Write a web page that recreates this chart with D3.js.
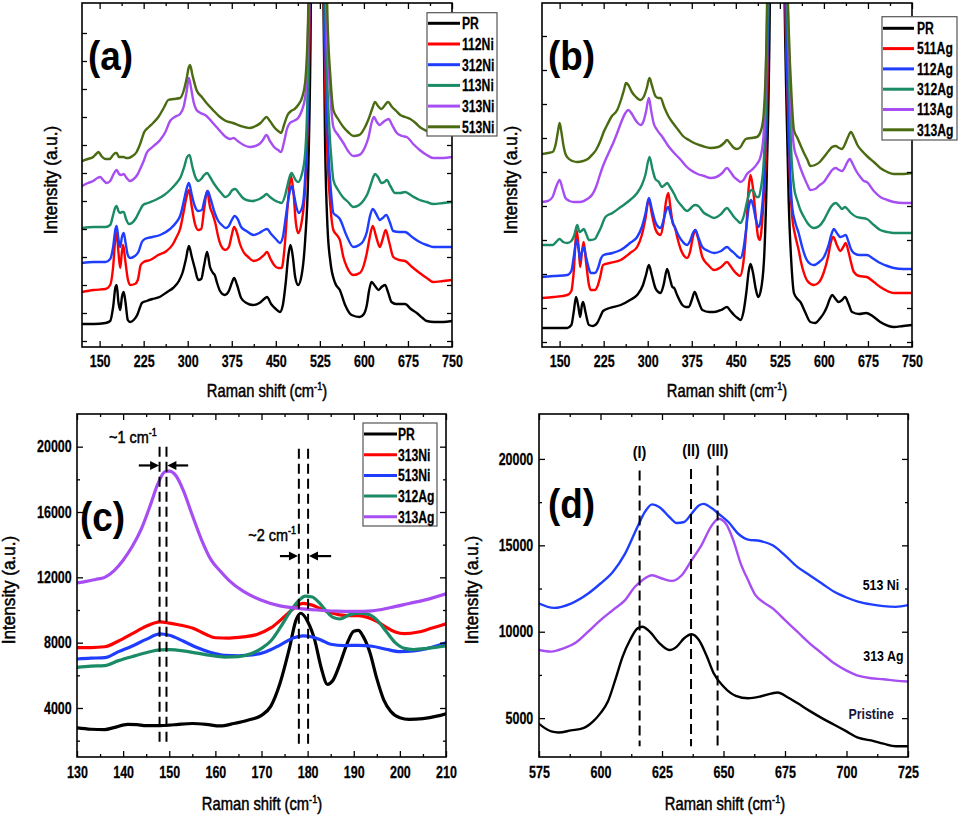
<!DOCTYPE html>
<html><head><meta charset="utf-8">
<script src="https://cdn.jsdelivr.net/npm/d3@7/dist/d3.min.js"></script>
<style>body{margin:0;background:#fff}svg{display:block}</style>
</head><body>
<svg id="chart" width="959" height="818"></svg>
<script>
// ---------------- DATA ----------------
const aNames = ["PR","112Ni","312Ni","113Ni","313Ni","513Ni"];
const bNames = ["PR","511Ag","112Ag","312Ag","113Ag","313Ag"];
const cNames = ["PR","313Ni","513Ni","312Ag","313Ag"];
const dNames = ["Pristine","313 Ag","513 Ni"];
const abColors = ["#000000","#ff0000","#1f3dff","#1b8a66","#a64ef2","#4b6b12"];
const cColors = ["#000000","#ff0000","#1f3dff","#1b8a66","#a64ef2"];
const dColors = ["#000000","#a64ef2","#1f3dff"];

const xTicksAB = [150,225,300,375,450,525,600,675,750];
const xMinorAB = [187.5,262.5,337.5,412.5,487.5,562.5,637.5,712.5];
const yTicksA = [6,34,62,90,118,146,174,202,230,258,286,314];
const yTicksB = [5,39,73,107,141,175,209,243,277,311];
const xTicksC = [130,140,150,160,170,180,190,200,210];
const xMinorC = [135,145,155,165,175,185,195,205];
const yTicksC = [4000,8000,12000,16000,20000];
const yMinorC = [2000,6000,10000,14000,18000];
const xTicksD = [575,600,625,650,675,700,725];
const xMinorD = [587.5,612.5,637.5,662.5,687.5,712.5];
const yTicksD = [5000,10000,15000,20000];
const yMinorD = [7500,12500,17500];

// panel (a): Raman shift (cm-1), intensity (a.u., offset spectra)
const aPR = [[120,23],[140,23],[160,24],[168,26],[173,40],[177,60],[179,62],[182,45],[185,37],[188,50],[191,55],[194,45],[198,27],[202,25],[208,27],[214,32],[219,40],[222,44],[230,46],[240,48],[252,50],[265,55],[275,59],[285,66],[291,74],[297,88],[302,101],[307,90],[312,79],[318,67],[323,68],[328,82],[333,95],[338,80],[343,74],[346,72],[350,64],[355,56],[363,52],[370,56],[375,64],[379,69],[384,62],[391,49],[400,44],[411,42],[422,44],[430,48],[435,50],[442,43],[450,38],[457,35],[462,42],[467,65],[471,90],[475,102],[479,90],[483,70],[488,62],[494,72],[500,107],[505,170],[509,300],[513,600],[520,2000],[527,700],[530,400],[534,200],[538,120],[543,85],[551,64],[559,57],[568,42],[579,32],[593,30],[600,33],[605,42],[609,57],[613,65],[619,61],[625,57],[630,60],[636,62],[641,55],[647,45],[655,43],[663,43],[670,43],[680,38],[690,34],[700,29],[707,26],[720,25],[735,25],[750,26]];
const a112Ni = [[120,55],[140,57],[160,58],[168,62],[173,80],[177,110],[179,114],[182,95],[185,79],[188,95],[190,102],[194,85],[198,68],[202,62],[210,63],[215,67],[220,82],[225,85],[236,87],[250,92],[264,96],[275,103],[281,110],[287,118],[293,135],[298,150],[302,157],[307,140],[312,124],[318,117],[323,118],[328,138],[333,156],[338,140],[343,132],[347,124],[352,110],[357,101],[364,97],[370,100],[375,112],[379,120],[384,114],[389,103],[395,95],[403,90],[412,86],[422,88],[430,92],[435,95],[441,88],[447,82],[454,79],[460,79],[465,100],[470,140],[474,165],[476,171],[480,155],[484,125],[488,114],[494,125],[500,160],[505,240],[509,400],[520,2000],[529,500],[533,300],[538,190],[543,140],[548,117],[554,112],[559,107],[565,90],[571,80],[582,72],[593,74],[600,82],[605,94],[610,110],[615,121],[621,110],[627,100],[632,108],[637,117],[643,105],[650,90],[660,87],[670,86],[682,80],[695,74],[707,69],[718,65],[735,66],[750,67]];
const a312Ni = [[120,84],[140,85],[160,85],[168,88],[173,100],[177,118],[179,121],[182,108],[185,100],[188,110],[191,114],[194,105],[198,92],[202,89],[210,91],[216,95],[222,105],[227,108],[240,110],[253,112],[270,118],[281,125],[287,131],[293,145],[298,158],[302,164],[307,152],[312,141],[318,136],[324,137],[329,148],[334,156],[339,148],[346,134],[352,126],[358,122],[365,119],[370,121],[375,127],[380,131],[385,128],[391,120],[400,116],[412,112],[422,114],[430,117],[435,118],[442,113],[450,108],[457,104],[462,110],[467,130],[472,150],[477,161],[481,152],[485,140],[489,134],[495,140],[500,170],[505,250],[509,420],[520,2000],[530,500],[535,280],[540,190],[544,155],[548,134],[554,131],[559,128],[570,112],[582,100],[592,102],[599,106],[605,115],[610,130],[615,138],[621,133],[627,127],[632,129],[638,132],[644,125],[650,116],[660,115],[670,115],[682,110],[695,105],[707,102],[718,100],[735,100],[750,100]];
const a113Ni = [[120,119],[140,120],[160,120],[168,122],[173,132],[177,140],[179,141],[182,136],[185,134],[188,135],[191,135],[195,128],[200,123],[205,124],[212,129],[218,136],[224,142],[232,144],[245,147],[260,152],[270,157],[281,164],[288,170],[294,180],[299,190],[303,192],[308,180],[313,170],[318,166],[323,168],[328,172],[333,174],[338,170],[344,164],[350,159],[357,154],[364,150],[370,152],[376,157],[381,158],[387,154],[394,149],[400,147],[410,146],[422,148],[430,151],[434,153],[440,150],[447,147],[454,145],[460,144],[465,150],[470,162],[474,171],[477,174],[481,170],[485,166],[488,165],[494,172],[500,194],[505,280],[509,460],[520,2000],[531,500],[536,300],[541,220],[545,185],[548,167],[556,157],[564,150],[573,145],[582,140],[592,142],[600,147],[606,153],[612,163],[616,170],[619,173],[624,170],[630,164],[635,165],[639,167],[645,161],[653,154],[662,154],[670,155],[682,151],[695,147],[707,145],[718,143],[735,144],[750,145]];
const a313Ni = [[120,161],[130,164],[139,166],[146,169],[151,170],[156,167],[162,164],[168,166],[173,172],[177,176],[179,177],[183,173],[187,172],[191,173],[196,169],[202,166],[208,168],[214,172],[219,178],[225,186],[230,194],[240,200],[253,207],[262,215],[270,226],[278,230],[287,233],[293,240],[298,255],[302,269],[306,258],[310,245],[315,237],[322,234],[332,231],[340,226],[349,220],[358,214],[365,210],[372,208],[378,209],[385,206],[395,202],[406,200],[415,201],[422,203],[428,207],[434,212],[440,206],[447,200],[454,197],[459,195],[464,205],[469,218],[474,224],[480,226],[488,229],[494,236],[500,250],[505,320],[509,480],[520,2000],[532,500],[537,320],[542,260],[548,220],[556,212],[565,204],[573,196],[582,191],[592,192],[602,200],[608,210],[613,224],[617,230],[622,225],[627,222],[633,225],[638,227],[642,228],[648,222],[656,214],[665,211],[673,210],[684,203],[695,197],[707,192],[718,189],[735,189],[750,190]];
const a513Ni = [[120,186],[130,188],[139,190],[144,193],[148,195],[153,191],[160,188],[167,188],[173,192],[177,194],[179,194],[183,190],[187,190],[191,190],[195,189],[199,189],[206,191],[213,195],[219,203],[226,215],[234,220],[241,224],[250,230],[260,240],[267,247],[276,248],[287,249],[293,256],[298,268],[302,280],[304,282],[308,272],[315,257],[324,250],[332,244],[343,237],[355,230],[365,226],[377,224],[390,221],[406,219],[416,221],[424,224],[430,228],[434,230],[440,226],[447,220],[454,216],[459,214],[464,222],[470,232],[476,236],[482,238],[488,242],[495,250],[500,265],[505,330],[509,500],[520,2000],[533,500],[538,330],[543,270],[548,237],[556,228],[565,220],[573,215],[582,211],[592,212],[602,220],[608,228],[614,238],[619,245],[624,241],[630,238],[636,242],[641,245],[648,240],[655,236],[662,232],[670,230],[679,228],[688,224],[695,220],[707,216],[718,213],[735,213],[750,213]];

// panel (b)
const bPR = [[120,19],[140,19],[163,19],[170,22],[174,35],[178,50],[182,40],[185,30],[188,42],[190,45],[194,35],[200,22],[207,21],[214,24],[219,30],[224,36],[235,39],[254,42],[270,47],[282,52],[292,62],[297,72],[302,82],[307,72],[313,59],[318,55],[322,54],[327,62],[333,78],[338,68],[342,60],[345,59],[350,52],[359,42],[365,40],[370,40],[375,47],[380,55],[385,48],[393,37],[405,35],[413,35],[425,37],[435,40],[441,36],[447,32],[453,29],[458,27],[463,35],[468,55],[472,76],[475,83],[479,75],[484,58],[488,50],[492,55],[498,87],[503,180],[508,350],[520,2000],[532,400],[536,250],[540,147],[545,80],[549,54],[555,48],[560,45],[568,35],[577,25],[585,24],[594,29],[600,34],[605,40],[610,48],[614,52],[620,48],[625,45],[631,47],[636,50],[642,43],[648,35],[660,33],[672,34],[685,30],[696,25],[710,21],[719,20],[735,21],[750,22]];
const b511Ag = [[120,49],[140,50],[163,52],[170,56],[174,75],[179,117],[183,95],[185,80],[188,95],[191,105],[195,85],[200,62],[203,57],[210,57],[214,60],[219,70],[224,82],[235,84],[254,87],[270,94],[282,100],[290,112],[296,128],[302,148],[307,133],[313,118],[318,113],[322,112],[327,125],[331,145],[335,154],[339,138],[343,123],[346,120],[351,108],[356,98],[362,91],[367,89],[372,95],[377,110],[381,117],[386,108],[393,90],[403,82],[413,77],[425,80],[435,85],[441,81],[447,76],[452,73],[457,71],[463,85],[468,120],[472,160],[475,172],[479,160],[484,130],[488,110],[491,107],[496,135],[501,190],[506,350],[520,2000],[533,400],[538,250],[542,170],[546,130],[551,112],[557,97],[561,85],[566,74],[572,66],[583,62],[592,65],[600,75],[607,90],[612,105],[616,110],[622,102],[628,96],[633,100],[637,104],[642,95],[646,85],[651,75],[660,71],[673,70],[685,65],[696,60],[708,56],[719,54],[735,54],[750,54]];
const b112Ag = [[120,70],[140,71],[163,72],[170,76],[174,90],[179,107],[183,95],[185,87],[188,95],[191,100],[195,90],[200,78],[203,74],[210,74],[216,80],[220,88],[225,92],[240,94],[254,97],[270,104],[282,110],[290,120],[296,133],[302,149],[307,138],[313,125],[318,120],[322,119],[327,127],[331,136],[335,140],[339,132],[343,124],[346,120],[352,112],[360,105],[367,102],[372,106],[377,114],[381,117],[386,110],[393,100],[403,96],[413,94],[425,96],[435,100],[441,97],[447,94],[452,91],[458,89],[463,98],[468,120],[472,140],[476,147],[480,140],[484,128],[489,120],[494,135],[499,180],[505,340],[520,2000],[533,420],[538,260],[542,180],[546,140],[551,125],[557,114],[563,100],[570,88],[577,83],[583,82],[592,85],[600,90],[608,102],[613,113],[617,118],[622,114],[628,110],[633,111],[637,112],[642,105],[646,98],[651,94],[660,92],[673,92],[685,88],[696,84],[708,81],[719,79],[735,78],[750,78]];
const b312Ag = [[120,102],[130,102],[138,102],[144,105],[150,108],[156,105],[163,104],[170,106],[175,112],[180,122],[184,115],[187,116],[191,118],[196,112],[200,107],[203,107],[210,108],[215,113],[220,119],[228,130],[240,134],[254,140],[270,147],[282,154],[290,162],[296,172],[303,190],[308,178],[313,168],[319,165],[324,160],[329,162],[333,164],[338,160],[345,153],[350,147],[358,141],[367,136],[372,138],[377,141],[381,142],[386,141],[396,134],[405,131],[413,129],[425,133],[435,139],[441,135],[447,130],[452,127],[458,124],[463,130],[469,145],[473,154],[477,157],[481,155],[485,150],[489,150],[493,160],[498,190],[504,330],[520,2000],[534,450],[539,300],[544,200],[549,160],[555,146],[560,137],[566,130],[572,124],[583,119],[592,121],[600,127],[607,135],[613,141],[620,144],[626,141],[631,138],[636,140],[640,138],[646,134],[656,130],[665,129],[673,128],[685,122],[696,117],[708,115],[719,114],[735,114],[750,114]];
const b113Ag = [[120,145],[130,146],[138,150],[144,160],[150,167],[155,158],[160,149],[167,146],[174,145],[185,145],[197,148],[205,152],[212,160],[217,169],[222,178],[228,187],[235,196],[242,205],[248,214],[255,225],[262,234],[267,237],[272,234],[278,228],[283,224],[288,222],[293,226],[297,235],[302,249],[306,236],[310,224],[316,217],[325,210],[335,201],[345,194],[355,188],[365,181],[373,177],[385,173],[396,171],[407,169],[417,170],[427,174],[435,179],[441,175],[447,170],[453,167],[458,165],[463,167],[469,173],[477,177],[486,183],[492,190],[497,210],[503,330],[520,2000],[535,450],[540,310],[545,230],[549,200],[555,188],[560,179],[566,170],[572,162],[577,157],[585,158],[593,162],[600,165],[608,172],[614,177],[620,179],[626,177],[631,176],[636,180],[640,185],[644,188],[649,183],[655,176],[662,170],[668,166],[673,165],[685,156],[696,150],[708,147],[719,145],[735,144],[750,144]];
const b313Ag = [[120,193],[130,194],[138,195],[143,202],[147,215],[150,224],[153,215],[157,200],[160,193],[166,188],[172,186],[180,185],[190,186],[198,188],[205,192],[212,197],[220,207],[225,215],[230,221],[238,230],[248,237],[255,248],[260,258],[263,264],[267,262],[273,255],[280,250],[288,247],[293,250],[298,258],[303,269],[307,262],[313,251],[318,249],[322,249],[328,240],[335,231],[343,224],[352,217],[360,211],[370,207],[379,204],[393,201],[407,199],[420,200],[430,204],[435,207],[441,203],[447,199],[452,198],[458,200],[463,205],[467,208],[476,209],[486,210],[492,215],[497,230],[503,330],[520,2000],[535,450],[540,320],[545,250],[549,217],[555,209],[560,202],[566,194],[572,187],[577,181],[585,182],[593,185],[600,190],[608,196],[614,200],[620,201],[626,199],[631,198],[636,203],[641,210],[646,215],[651,210],[657,202],[665,196],[675,190],[685,185],[696,179],[708,175],[719,173],[735,173],[750,174]];

// panel (c)
const cPR = [[130,2780],[133,2700],[136,2680],[138,2800],[141,3000],[143,2980],[145,2920],[148,2920],[150,2950],[152,3000],[155,3050],[158,3000],[161,2900],[164,3050],[167,3250],[170,3550],[172,4100],[174,5500],[176,7600],[177.5,9400],[178.5,9800],[180,9300],[181.5,8200],[183,6400],[184.3,5450],[185.5,5700],[187,6700],[188.5,7900],[190,8700],[191,8750],[192,8400],[193.5,7400],[195,5800],[196.5,4500],[198,3800],[200,3400],[202,3300],[205,3350],[208,3500],[210,3650]];
const c313Ni = [[130,7700],[133,7700],[136,7750],[139,8100],[142,8550],[145,9000],[148,9270],[150,9200],[152,9100],[155,8900],[158,8500],[160,8300],[163,8280],[166,8350],[169,8500],[172,8900],[175,9600],[177,10100],[179,10400],[181,10300],[183,10050],[185,9850],[187,9700],[189,9650],[191,9650],[193,9550],[195,9300],[197,8950],[199,8650],[201,8550],[204,8650],[207,8900],[210,9150]];
const c513Ni = [[130,7000],[133,7050],[136,7080],[139,7450],[142,7800],[145,8200],[148,8540],[150,8450],[153,8100],[156,7700],[159,7400],[162,7230],[165,7200],[168,7250],[171,7450],[174,7850],[177,8300],[179,8420],[181,8350],[183,8150],[185,7900],[188,7820],[191,7840],[194,7780],[197,7600],[200,7450],[203,7500],[206,7650],[210,8000]];
const c312Ag = [[130,6490],[133,6560],[136,6600],[139,6900],[142,7150],[145,7380],[148,7560],[150,7570],[153,7500],[156,7360],[159,7220],[162,7120],[165,7150],[168,7350],[170,7650],[172,8100],[174,8900],[176,9800],[178,10550],[179.5,10850],[181,10800],[182.5,10450],[184,9950],[185.5,9550],[187,9450],[189,9700],[191,9800],[193,9750],[195,9400],[197,8700],[199,8000],[201,7650],[203,7580],[206,7650],[210,7800]];
const c313Ag = [[130,11660],[132,11750],[134,11870],[136,12000],[138,12400],[140,13050],[142,13900],[144,15000],[146,16500],[147.5,17700],[149,18450],[150,18500],[151.5,18200],[153,17350],[155,15800],[157,14300],[159,13100],[161,12400],[163,11800],[166,11150],[170,10600],[174,10250],[178,10100],[182,10000],[186,9930],[190,9910],[194,9950],[198,10150],[202,10400],[206,10650],[210,10990]];
const cDashes = [[147.9,20000,1750],[149.4,20000,1750],[178.1,19880,1750],[180.1,19880,1750]];
const cArrows = [[143.4,147.8,18850],[154.1,149.6,18850],[174.0,177.9,13300],[185.1,180.3,13300]];

// panel (d)
const dPristine = [[575,4670],[580,4230],[583,4170],[588,4290],[593,4420],[597,4810],[600,5290],[603,5960],[606,7210],[609,8560],[612,9520],[615,10190],[617,10290],[620,10000],[624,9330],[628,8940],[631,9140],[634,9620],[637,9850],[640,9520],[643,8650],[646,7600],[650,6830],[655,6290],[660,6150],[665,6250],[670,6440],[672,6480],[676,6210],[680,5870],[685,5420],[690,5000],[695,4620],[700,4230],[705,3850],[710,3710],[715,3520],[720,3370],[725,3370]];
const d313Ag = [[575,8940],[580,8850],[585,9040],[590,9370],[595,10000],[600,10670],[605,11250],[610,11830],[614,12600],[617,12980],[621,13270],[625,13080],[629,12940],[633,13270],[637,14130],[641,15000],[645,16100],[648,16540],[651,16250],[654,15290],[657,13940],[660,12980],[663,12120],[666,11730],[670,11350],[675,10670],[680,10000],[685,9330],[690,8750],[695,8170],[700,7750],[705,7440],[710,7310],[715,7250],[720,7170],[725,7120]];
const d513Ni = [[575,11630],[581,11380],[588,11630],[595,12210],[600,12790],[605,13460],[610,14520],[615,16060],[618,16920],[621,17370],[624,17210],[628,16640],[631,16290],[634,16350],[637,16830],[640,17310],[642,17400],[645,17170],[648,16830],[652,16350],[656,15670],[660,15330],[665,15250],[670,15000],[675,14420],[680,13750],[685,13270],[690,12790],[695,12310],[700,11980],[705,11730],[710,11580],[715,11480],[720,11440],[725,11540]];
const dDashes = [[615.9,19330,3370],[636.8,19420,3370],[647.6,19620,3370]];
const dPeakLabels = ["(I)","(II)","(III)"];
const dSeriesLabels = [["513 Ni",714,12414],["313 Ag",715,8306],["Pristine",710,4949]];

// ---------------- DRAW ----------------
const svg = d3.select("#chart");
const FONT = '"Liberation Sans", Arial, Helvetica, sans-serif';

function txt(x, y, str, o) {
  o = Object.assign({size:16, weight:"normal", anchor:"start", sx:1, rot:0, fill:"#000", stroke:null}, o || {});
  const g = svg.append("g").attr("transform", `translate(${x},${y}) rotate(${o.rot}) scale(${o.sx},1)`);
  const t = g.append("text").attr("font-family", FONT).attr("font-size", o.size)
    .attr("font-weight", o.weight).attr("text-anchor", o.anchor).attr("fill", o.fill);
  if (o.stroke) t.attr("stroke", o.fill).attr("stroke-width", o.stroke);
  if (o.sup) {
    t.append("tspan").text(str);
    t.append("tspan").attr("dy", -o.size*0.4).attr("font-size", o.size*0.62).text(o.sup);
    t.append("tspan").attr("dy", o.size*0.4).text(o.after || "");
  } else t.text(str);
  return t;
}

function panel(p) {
  const x = d3.scaleLinear().domain(p.xDomain).range([p.left, p.right]);
  const y = d3.scaleLinear().domain(p.yDomain).range([p.bottom, p.top]);
  const cid = "clip_" + p.id;
  svg.append("clipPath").attr("id", cid).append("rect")
    .attr("x", p.left).attr("y", p.top).attr("width", p.right - p.left).attr("height", p.bottom - p.top);
  const line = d3.line().x(d => x(d[0])).y(d => y(d[1])).curve(d3.curveMonotoneX);
  const gl = svg.append("g").attr("clip-path", `url(#${cid})`);
  p.series.forEach((s, i) => {
    gl.append("path").attr("d", line(s)).attr("fill", "none")
      .attr("stroke", p.colors[i]).attr("stroke-width", p.lw)
      .attr("stroke-linejoin", "round").attr("stroke-linecap", "round");
  });
  // ticks
  const sx = 0.78;
  function axis(gen, tr, vals, len, fmt, pad) {
    const a = gen.tickValues(vals).tickSize(-len).tickPadding(pad || 0).tickFormat(fmt ? fmt : () => "");
    const g = svg.append("g").attr("transform", tr).call(a);
    g.select(".domain").remove();
    g.selectAll("line").attr("stroke", "#000").attr("stroke-width", 1.3);
    g.selectAll("text").attr("font-family", FONT).attr("font-size", 16).attr("font-weight", "bold").attr("fill", "#000")
      .attr("stroke", "#000").attr("stroke-width", 0.25)
      .attr("transform", `scale(${sx},1)`)
      .attr("x", function () { const v = d3.select(this).attr("x"); return v === null ? 0 : (+v) / sx; });
    return g;
  }
  const fmtX = d => String(d);
  axis(d3.axisBottom(x), `translate(0,${p.bottom})`, p.xTicks, 6, fmtX, p.xPad);
  axis(d3.axisBottom(x), `translate(0,${p.bottom})`, p.xMinor, 3);
  axis(d3.axisTop(x), `translate(0,${p.top})`, p.xTicks, 6);
  axis(d3.axisTop(x), `translate(0,${p.top})`, p.xMinor, 3);
  axis(d3.axisLeft(y), `translate(${p.left},0)`, p.yTicks, p.yLen || 6, p.yFmt || null, p.yPad);
  axis(d3.axisRight(y), `translate(${p.right},0)`, p.yTicks, p.yLen || 6);
  if (p.yMinor) {
    axis(d3.axisLeft(y), `translate(${p.left},0)`, p.yMinor, 3);
    axis(d3.axisRight(y), `translate(${p.right},0)`, p.yMinor, 3);
  }
  svg.append("rect").attr("x", p.left).attr("y", p.top).attr("width", p.right - p.left).attr("height", p.bottom - p.top)
    .attr("fill", "none").attr("stroke", "#000").attr("stroke-width", 1.6);
  return {x, y};
}

function legend(box, names, colors, x0, x1, tx, yStart, step) {
  svg.append("rect").attr("x", box[0]).attr("y", box[1]).attr("width", box[2] - box[0]).attr("height", box[3] - box[1])
    .attr("fill", "#fff").attr("stroke", "#555").attr("stroke-width", 1.2);
  names.forEach((n, i) => {
    const yy = yStart + i * step;
    svg.append("line").attr("x1", x0).attr("x2", x1).attr("y1", yy).attr("y2", yy)
      .attr("stroke", colors[i]).attr("stroke-width", 3);
    txt(tx, yy + 5.8, n, {size: 16, weight: "bold", sx: 0.76, stroke: 0.25});
  });
}

// Panel (a)
panel({id:"a", left:82, right:452, top:3, bottom:347, xDomain:[120,750], yDomain:[0,344],
  series:[aPR,a112Ni,a312Ni,a113Ni,a313Ni,a513Ni], colors:abColors, lw:2.4,
  xTicks:xTicksAB, xMinor:xMinorAB, yTicks:yTicksA, yLen:5, xPad:8.6});
legend([427,12.7,497,136], aNames, abColors, 428, 460, 462, 23.3, 20.7);
txt(88, 70, "(a)", {size:41, weight:"bold", sx:0.9});
txt(267, 397, "Raman shift (cm", {size:18, anchor:"middle", sx:0.82, sup:"-1", after:")", stroke:0.5});
txt(57, 180, "Intensity (a.u.)", {size:18, anchor:"middle", rot:-90, sx:0.95, stroke:0.5});

// Panel (b)
panel({id:"b", left:542, right:912, top:3, bottom:347, xDomain:[120,750], yDomain:[0,344],
  series:[bPR,b511Ag,b112Ag,b312Ag,b113Ag,b313Ag], colors:abColors, lw:2.4,
  xTicks:xTicksAB, xMinor:xMinorAB, yTicks:yTicksB, yLen:5, xPad:8.6});
legend([882,16.7,957,140], bNames, abColors, 883, 914, 917, 28.3, 20.3);
txt(548, 70, "(b)", {size:41, weight:"bold", sx:0.9});
txt(727, 397, "Raman shift (cm", {size:18, anchor:"middle", sx:0.82, sup:"-1", after:")", stroke:0.5});
txt(517, 180, "Intensity (a.u.)", {size:18, anchor:"middle", rot:-90, sx:0.95, stroke:0.5});

// Panel (c)
const sc = panel({id:"c", left:77, right:446, top:414, bottom:757, xDomain:[130,210], yDomain:[1000,22000],
  series:[cPR,c313Ni,c513Ni,c312Ag,c313Ag], colors:cColors, lw:3.2,
  xTicks:xTicksC, xMinor:xMinorC, yTicks:yTicksC, yMinor:yMinorC, yFmt:d => String(d), yPad:5.3, xPad:9.6});
cDashes.forEach(d => {
  svg.append("line").attr("x1", sc.x(d[0])).attr("x2", sc.x(d[0])).attr("y1", sc.y(d[1])).attr("y2", sc.y(d[2]))
    .attr("stroke", "#000").attr("stroke-width", 2).attr("stroke-dasharray", "10,5");
});
cArrows.forEach(a => {
  const x0 = sc.x(a[0]), x1 = sc.x(a[1]), yy = sc.y(a[2]);
  const dir = x1 > x0 ? 1 : -1;
  svg.append("line").attr("x1", x0).attr("x2", x1 - dir * 7).attr("y1", yy).attr("y2", yy)
    .attr("stroke", "#000").attr("stroke-width", 2.2);
  svg.append("path").attr("d", `M${x1},${yy} L${x1 - dir * 9},${yy - 4.5} L${x1 - dir * 9},${yy + 4.5} Z`).attr("fill", "#000");
});
txt(sc.x(142.1), sc.y(20228), "~1 cm", {size:17, anchor:"middle", sx:0.85, sup:"-1", stroke:0.5});
txt(sc.x(172.3), sc.y(14227), "~2 cm", {size:17, anchor:"middle", sx:0.85, sup:"-1", stroke:0.5});
legend([363,423,437,526], cNames, cColors, 364, 397, 398, 434, 20.7);
txt(80, 531, "(c)", {size:41, weight:"bold", sx:0.9});
txt(262, 810, "Raman shift (cm", {size:18, anchor:"middle", sx:0.82, sup:"-1", after:")", stroke:0.5});
txt(15, 590, "Intensity (a.u.)", {size:18, anchor:"middle", rot:-90, sx:0.95, stroke:0.5});

// Panel (d)
const sd = panel({id:"d", left:539, right:908, top:414, bottom:757, xDomain:[575,725], yDomain:[2750,22600],
  series:[dPristine,d313Ag,d513Ni], colors:dColors, lw:2.4,
  xTicks:xTicksD, xMinor:xMinorD, yTicks:yTicksD, yMinor:yMinorD, yFmt:d => String(d), yPad:5.7, xPad:9.6});
dDashes.forEach((d, i) => {
  svg.append("line").attr("x1", sd.x(d[0])).attr("x2", sd.x(d[0])).attr("y1", sd.y(d[1])).attr("y2", sd.y(d[2]))
    .attr("stroke", "#000").attr("stroke-width", 2).attr("stroke-dasharray", "10,5");
  txt(sd.x(d[0]), sd.y(i === 0 ? 20053 : 20170), dPeakLabels[i], {size:17, weight:"bold", anchor:"middle", sx:0.85});
});
dSeriesLabels.forEach((s, i) => {
  txt(sd.x(s[1]), sd.y(s[2]), s[0], {size:15.5, weight:"bold", anchor:"middle", sx:0.8, fill: i === 2 ? "#16163e" : "#000"});
});
txt(548, 518, "(d)", {size:41, weight:"bold", sx:0.9});
txt(725, 810, "Raman shift (cm", {size:18, anchor:"middle", sx:0.82, sup:"-1", after:")", stroke:0.5});
txt(478, 590, "Intensity (a.u.)", {size:18, anchor:"middle", rot:-90, sx:0.95, stroke:0.5});
</script>
</body></html>
